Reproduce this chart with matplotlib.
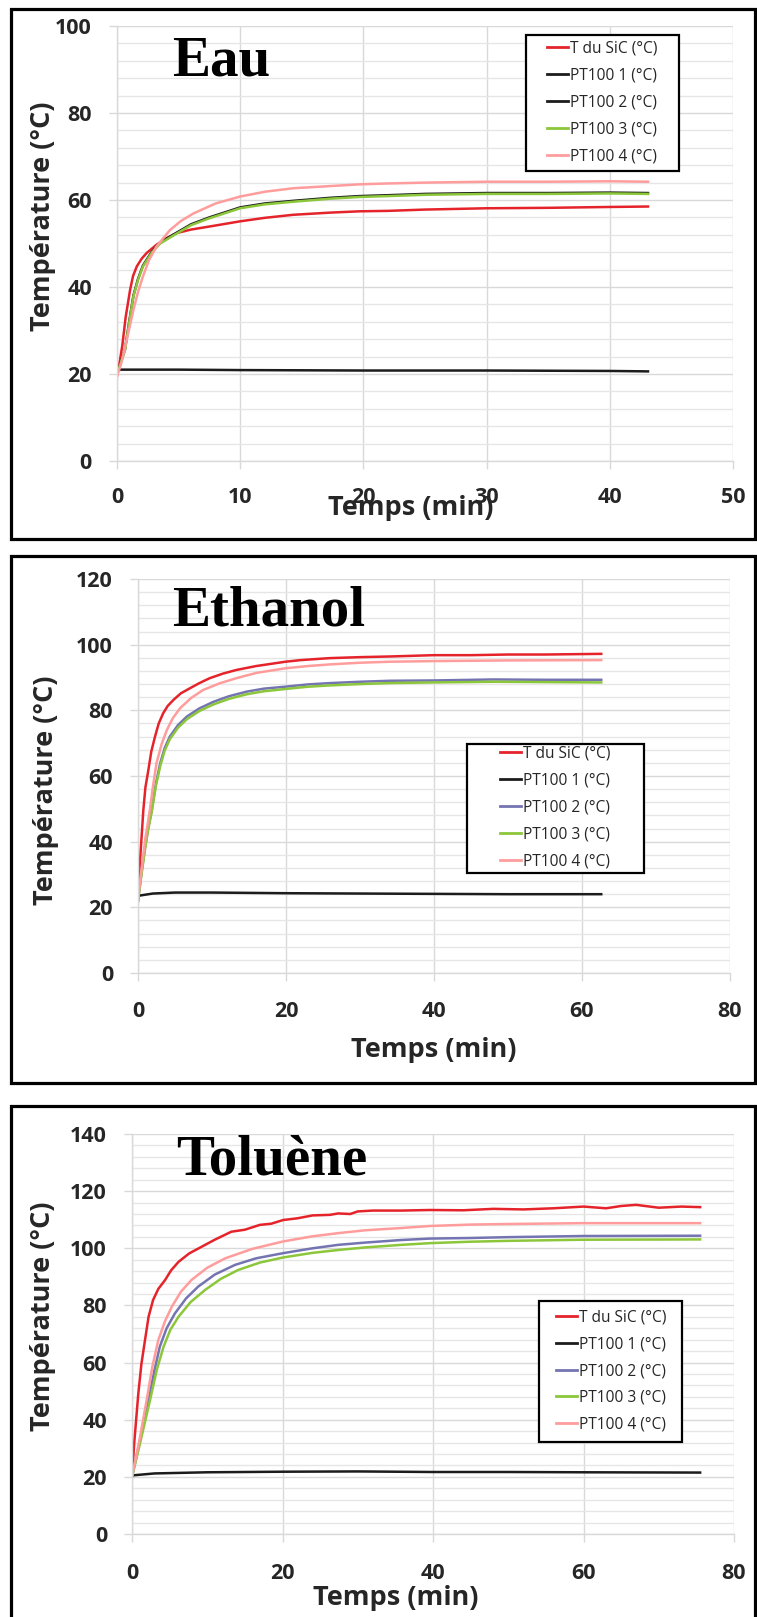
import matplotlib
matplotlib.use("Agg")
import matplotlib.pyplot as plt
from matplotlib.patches import Rectangle
from matplotlib.ticker import MultipleLocator

# ---------------- data ----------------
series_labels = ["T du SiC (°C)", "PT100 1 (°C)", "PT100 2 (°C)", "PT100 3 (°C)", "PT100 4 (°C)"]

# Eau
eau_t_sic = [0, 0.2, 0.43, 0.7, 1.06, 1.3, 1.6, 2.0, 2.4, 3.2, 4.0, 4.85, 6.0, 7.5, 10, 12, 14.3, 17.3, 19.7, 22, 25, 30, 35, 40, 43.1]
eau_sic = [19.5, 22.5, 26.5, 33, 39.3, 42.5, 44.7, 46.5, 47.8, 49.7, 51.2, 52.4, 53.2, 53.9, 55.1, 55.9, 56.6, 57.1, 57.4, 57.5, 57.8, 58.1, 58.2, 58.4, 58.5]
eau_t_pt1 = [0, 5, 10, 20, 30, 40, 43.1]
eau_pt1 = [21.0, 21.0, 20.9, 20.8, 20.8, 20.7, 20.6]
eau_t_pt23 = [0, 0.3, 0.65, 1.0, 1.33, 1.7, 2.1, 2.8, 3.5, 4.85, 6, 7.5, 10, 12, 14.3, 17.3, 19.7, 22, 25, 30, 35, 40, 43.1]
eau_pt2 = [20, 22.6, 25.7, 32.2, 38.0, 41.8, 44.9, 48.0, 50.2, 52.5, 54.4, 56.0, 58.3, 59.2, 59.8, 60.5, 60.9, 61.1, 61.4, 61.6, 61.6, 61.7, 61.6]
eau_pt3 = [20, 22.5, 25.5, 32, 37.8, 41.6, 44.7, 47.8, 50.0, 52.3, 54.2, 55.8, 58.1, 59.0, 59.6, 60.3, 60.7, 60.9, 61.2, 61.4, 61.4, 61.5, 61.4]
eau_t_pt4 = [0, 0.3, 0.6, 1.0, 1.33, 1.7, 2.1, 2.6, 3.2, 4.3, 5.2, 6.2, 8, 10, 12, 14.3, 17.3, 19.7, 22, 25, 30, 35, 40, 43.1]
eau_pt4 = [19.5, 22, 25.5, 30.5, 34.7, 38.8, 42.4, 46.2, 49.3, 53.1, 55.2, 56.9, 59.2, 60.8, 61.9, 62.7, 63.2, 63.6, 63.8, 64.0, 64.2, 64.2, 64.3, 64.2]

# Ethanol
eth_t_sic = [0, 0.3, 0.72, 1.0, 1.4, 1.8, 2.3, 2.8, 3.4, 4.0, 4.8, 5.8, 7, 8.3, 9.7, 11.5, 13.3, 16, 19.9, 22, 25.9, 30, 34, 40, 45, 50, 55, 62.6]
eth_sic = [22, 35, 49.6, 56.5, 61.8, 67.5, 72, 76, 79.1, 81.3, 83.2, 85.2, 86.7, 88.3, 89.8, 91.2, 92.3, 93.5, 94.8, 95.3, 95.9, 96.2, 96.4, 96.8, 96.8, 97.0, 97.0, 97.2]
eth_t_pt1 = [0, 2, 5, 10, 20, 30, 40, 50, 62.6]
eth_pt1 = [23.5, 24.2, 24.5, 24.5, 24.3, 24.2, 24.1, 24.0, 24.0]
eth_t_pt23 = [0, 0.5, 1.0, 1.4, 1.85, 2.4, 3, 3.6, 4.3, 5.4, 6.6, 8.3, 10.2, 12.3, 14.7, 17, 19.9, 23, 26, 30, 34, 40, 48, 55, 62.6]
eth_pt2 = [22, 31, 39, 44.5, 49.6, 57.5, 63.9, 68.5, 72, 75.5, 78.1, 80.6, 82.6, 84.3, 85.7, 86.6, 87.2, 87.9, 88.3, 88.7, 89.0, 89.1, 89.4, 89.3, 89.3]
eth_pt3 = [22, 30.5, 38.5, 44, 49, 56.8, 63, 67.7, 71.2, 74.7, 77.3, 79.8, 81.8, 83.5, 84.9, 85.8, 86.5, 87.2, 87.6, 88.0, 88.3, 88.5, 88.7, 88.6, 88.5]
eth_t_pt4 = [0, 0.5, 1.0, 1.6, 2.0, 2.5, 3.2, 3.9, 4.7, 5.7, 7.2, 8.8, 11, 13.3, 16, 19.9, 23, 26, 30, 34, 40, 50, 62.6]
eth_pt4 = [22, 32, 41, 49.6, 56.5, 63.9, 69.8, 74, 77.6, 80.7, 83.8, 86.2, 88.2, 89.8, 91.4, 92.8, 93.5, 94, 94.5, 94.8, 95.0, 95.2, 95.3]

# Toluène
tol_t_sic = [0, 0.3, 0.84, 1.25, 1.73, 2.2, 2.8, 3.5, 4.4, 5.2, 6.2, 7.6, 9.3, 11, 13.2, 15, 17, 18.5, 20.1, 22, 24, 26.3, 27.4, 29, 30, 32,
             35.8, 39.6, 44, 48, 52, 56, 60, 63, 65, 67, 70, 73, 75.5]
tol_sic = [20, 32, 49.2, 59.5, 67.9, 76, 81.9, 85.8, 88.9, 92.3, 95.3, 98.2, 100.6, 103, 105.8, 106.5, 108.2, 108.6, 109.9, 110.5, 111.5,
           111.7, 112.2, 112.0, 112.9, 113.2, 113.2, 113.4, 113.3, 113.8, 113.6, 114.0, 114.6, 114.0, 114.8, 115.2, 114.2, 114.6, 114.4]
tol_t_pt1 = [0, 3, 10, 20, 30, 40, 50, 60, 75.5]
tol_pt1 = [20.5, 21.2, 21.6, 21.8, 21.9, 21.7, 21.7, 21.6, 21.5]
tol_t_pt2 = [0, 1, 2.2, 3.0, 3.7, 4.6, 5.7, 7.2, 8.8, 11, 13.7, 16.5, 20.1, 24, 27.4, 31, 35.8, 39.6, 45, 50, 60, 75.5]
tol_pt2 = [20, 32, 46.9, 57.5, 65.6, 72.0, 77.2, 82.5, 86.6, 90.8, 94.2, 96.5, 98.3, 100, 101.2, 102.0, 102.9, 103.4, 103.6, 103.9, 104.3, 104.4]
tol_t_pt3 = [0, 1, 2.4, 3.3, 4.2, 5.1, 6.2, 7.8, 9.7, 11.8, 14.1, 17, 20.1, 24, 27.4, 31, 35.8, 39.6, 45, 50, 60, 75.5]
tol_pt3 = [20, 31, 46.9, 57.5, 65.6, 71.5, 76.1, 81.2, 85.4, 89.3, 92.4, 95, 96.8, 98.4, 99.4, 100.3, 101.2, 101.8, 102.3, 102.6, 103.0, 103.1]
tol_t_pt4 = [0, 1, 1.95, 2.7, 3.5, 4.4, 5.3, 6.5, 7.9, 10, 12.4, 16, 20.1, 24, 27.4, 31, 35.8, 39.6, 45, 50, 60, 75.5]
tol_pt4 = [20, 33, 46.9, 58.5, 67.9, 74.6, 79.6, 84.8, 88.9, 93.2, 96.5, 99.8, 102.4, 104.2, 105.3, 106.3, 107.1, 107.8, 108.3, 108.5, 108.8, 108.8]

titles = ["Eau", "Ethanol", "Toluène"]
xlims = [50, 80, 80]
xsteps = [10, 20, 20]
ylims = [100, 120, 140]

# ---------------- style ----------------
W, H = 757, 1617
RED = "#e5232b"
BLACK = "#1c1c1c"
BLUE = "#7474b2"
GREEN = "#8cc63a"
PINK = "#ff9c9c"
GRID = "#d9d9d9"
MINOR = "#e6e6e6"
TXT = "#262626"

fig = plt.figure(figsize=(W / 100, H / 100), dpi=100)
fig.patch.set_facecolor("white")


def rect_px(l, t, r, b):
    return [l / W, 1 - b / H, (r - l) / W, (b - t) / H]


def fx(x):
    return x / W


def fy(y):
    return 1 - y / H


panels = [
    dict(ax=(117, 26, 733, 461), border=(11, 9, 755, 539), title=(172, 76),
         ylab=(43, 216), xlab=(411, 508), xpad=13, legend_box=(526, 35, 679, 171), legend_pos=(547, 102.7),
         series=[(eau_t_sic, eau_sic, RED), (eau_t_pt1, eau_pt1, BLACK), (eau_t_pt23, eau_pt2, BLACK),
                 (eau_t_pt23, eau_pt3, GREEN), (eau_t_pt4, eau_pt4, PINK)]),
    dict(ax=(138, 579, 730, 973), border=(11, 556, 755, 1083), title=(172, 625),
         ylab=(46, 790), xlab=(434, 1050), xpad=14.5, legend_box=(467, 744, 644, 873), legend_pos=(500, 807.7),
         series=[(eth_t_sic, eth_sic, RED), (eth_t_pt1, eth_pt1, BLACK), (eth_t_pt23, eth_pt2, BLUE),
                 (eth_t_pt23, eth_pt3, GREEN), (eth_t_pt4, eth_pt4, PINK)]),
    dict(ax=(132, 1134, 734, 1534), border=(11, 1106, 755, 1640), title=(176, 1174),
         ylab=(43, 1316), xlab=(396, 1598), xpad=15.5, legend_box=(539, 1301, 682, 1442), legend_pos=(556, 1371),
         series=[(tol_t_sic, tol_sic, RED), (tol_t_pt1, tol_pt1, BLACK), (tol_t_pt2, tol_pt2, BLUE),
                 (tol_t_pt3, tol_pt3, GREEN), (tol_t_pt4, tol_pt4, PINK)]),
]

for i, p in enumerate(panels):
    # panel border
    l, t, r, b = p["border"]
    fig.patches.append(Rectangle((fx(l), fy(b)), (r - l) / W, (b - t) / H, transform=fig.transFigure,
                                 fill=False, edgecolor="black", linewidth=2.3, zorder=1))

    ax = fig.add_axes(rect_px(*p["ax"]))
    ax.set_xlim(0, xlims[i])
    ax.set_ylim(0, ylims[i])
    ax.xaxis.set_major_locator(MultipleLocator(xsteps[i]))
    ax.yaxis.set_major_locator(MultipleLocator(20))
    ax.yaxis.set_minor_locator(MultipleLocator(4))
    ax.grid(True, which="major", color=GRID, linewidth=1.0)
    ax.grid(True, which="minor", axis="y", color=MINOR, linewidth=1.0)
    ax.set_axisbelow(True)
    for s in ["top", "right"]:
        ax.spines[s].set_visible(False)
    for s in ["left", "bottom"]:
        ax.spines[s].set_color(GRID)
        ax.spines[s].set_linewidth(1.0)
    ax.tick_params(axis="both", which="major", direction="out", color=GRID, length=5.5, width=1.0,
                   labelsize=15.5, labelcolor=TXT)
    ax.tick_params(axis="y", which="major", pad=12.5)
    ax.tick_params(axis="x", which="major", pad=p["xpad"])
    ax.tick_params(axis="both", which="minor", length=0)
    for lab in ax.get_xticklabels() + ax.get_yticklabels():
        lab.set_fontfamily("Open Sans")
        lab.set_fontweight("bold")

    handles = []
    for (tt, vv, c), lab in zip(p["series"], series_labels):
        ln, = ax.plot(tt, vv, color=c, linewidth=1.8, label=lab, solid_joinstyle="round")
        handles.append(ln)

    # titles and axis labels
    tx, ty = p["title"]
    fig.text(fx(tx), fy(ty), titles[i], fontfamily="Liberation Serif", fontweight="bold", fontsize=41,
             ha="left", va="baseline", color="black", zorder=7)
    yx, yy = p["ylab"]
    fig.text(fx(yx), fy(yy), "Température (°C)", rotation=90, fontfamily="Open Sans", fontweight="bold",
             fontsize=19.5, ha="center", va="center", color=TXT)
    xx, xy = p["xlab"]
    fig.text(fx(xx), fy(xy), "Temps (min)", fontfamily="Open Sans", fontweight="bold",
             fontsize=19.5, ha="center", va="center", color=TXT)

    # legend box
    l, t, r, b = p["legend_box"]
    fig.patches.append(Rectangle((fx(l), fy(b)), (r - l) / W, (b - t) / H, transform=fig.transFigure,
                                 facecolor="white", edgecolor="black", linewidth=1.6, zorder=5))
    lx, ly = p["legend_pos"]
    leg = fig.legend(handles=handles, labels=series_labels, loc="center left",
                     bbox_to_anchor=(fx(lx), fy(ly)), bbox_transform=fig.transFigure,
                     frameon=False, borderpad=0, borderaxespad=0, handlelength=1.35,
                     handletextpad=0.12, labelspacing=0.7,
                     prop={"family": "Open Sans", "size": 11.2})
    leg.set_zorder(6)
    for txt in leg.get_texts():
        txt.set_color(TXT)
    for ln in leg.get_lines():
        ln.set_linewidth(2.0)

fig.savefig("out.png", dpi=100)
